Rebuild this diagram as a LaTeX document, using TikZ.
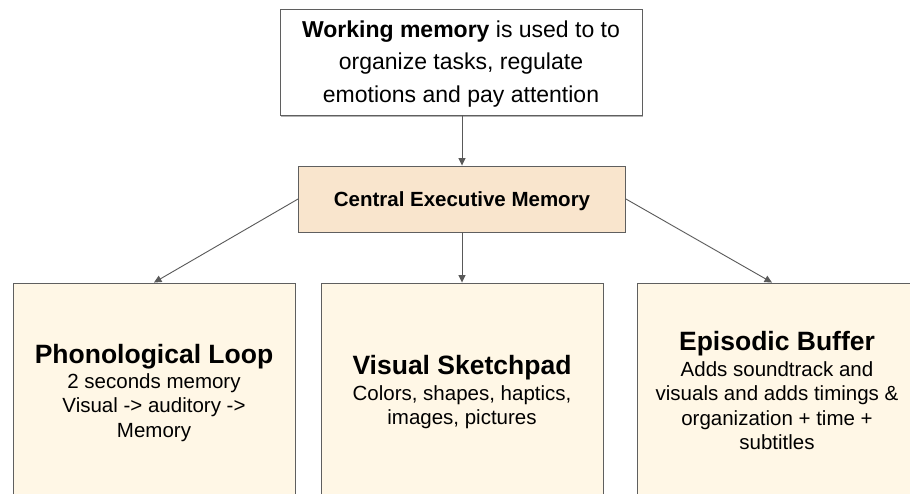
\documentclass[tikz,border=0pt]{standalone}
\usepackage{fontspec}
\setmainfont{Liberation Sans}
\usetikzlibrary{arrows.meta,shadows,calc}
\definecolor{edgegray}{HTML}{5F5F5F}
\definecolor{arrowgray}{HTML}{595959}
\definecolor{peach}{HTML}{F9E5CD}
\definecolor{cream}{HTML}{FFF7E6}
\tikzset{
  panel/.style={draw=edgegray,line width=0.9pt,inner sep=0pt},
  link/.style={draw=arrowgray,line width=0.9pt,-{Triangle[length=7.5pt,width=7pt]}},
  titletext/.style={inner sep=0pt,anchor=base,font=\fontsize{26.5}{30}\selectfont\bfseries},
  bodytext/.style={inner sep=0pt,anchor=north,align=center,font=\fontsize{20.5}{24.5}\selectfont},
}
\begin{document}
\begin{tikzpicture}[x=1pt,y=-1pt]
\useasboundingbox (0,0) rectangle (910,493);
\clip (0,0) rectangle (910,493);
\fill[white] (0,0) rectangle (910,493);

% top statement box
\node[panel,fill=white,minimum width=362pt,minimum height=106pt,
  drop shadow={shadow xshift=1.2pt,shadow yshift=-1.6pt,opacity=0.3,fill=black}]
  (wm) at (461,62) {};
\node[inner sep=0pt,anchor=north,align=center,font=\fontsize{23}{32.5}\selectfont]
  (wmtext) at (461,20.5)
  {\textbf{Working memory} is used to to\\organize tasks, regulate\\emotions and pay attention};

% central executive
\node[panel,fill=peach,minimum width=327pt,minimum height=66pt] (ce) at (462,199) {};
\node[inner sep=0pt,anchor=base,font=\fontsize{20.5}{24}\selectfont\bfseries]
  (cetext) at (462,206.5) {Central Executive Memory};

% three subsystems
\node[panel,fill=cream,minimum width=282pt,minimum height=237pt] (pl) at (154,401.5) {};
\node[panel,fill=cream,minimum width=282pt,minimum height=237pt] (vs) at (462,401.5) {};
\node[panel,fill=cream,minimum width=280pt,minimum height=237pt] (eb) at (777,401.5) {};

\node[titletext] (pltitle) at (154,363) {Phonological Loop};
\node[bodytext] (plbody) at (154,373.2) {2 seconds memory\\Visual -> auditory ->\\Memory};

\node[titletext] (vstitle) at (462,374) {Visual Sketchpad};
\node[bodytext] (vsbody) at (462,385.2) {Colors, shapes, haptics,\\images, pictures};

\node[titletext] (ebtitle) at (777,350) {Episodic Buffer};
\node[bodytext] (ebbody) at (777,361.2) {Adds soundtrack and\\visuals and adds timings \&\\organization + time +\\subtitles};

% connectors
\draw[link] (wm.south -| ce.north) -- (ce.north);
\draw[link] (ce.west) -- (pl.north);
\draw[link] (ce.south) -- (vs.north);
\draw[link] (ce.east) -- ($(eb.north)+(-5,0)$);
\end{tikzpicture}
\end{document}
